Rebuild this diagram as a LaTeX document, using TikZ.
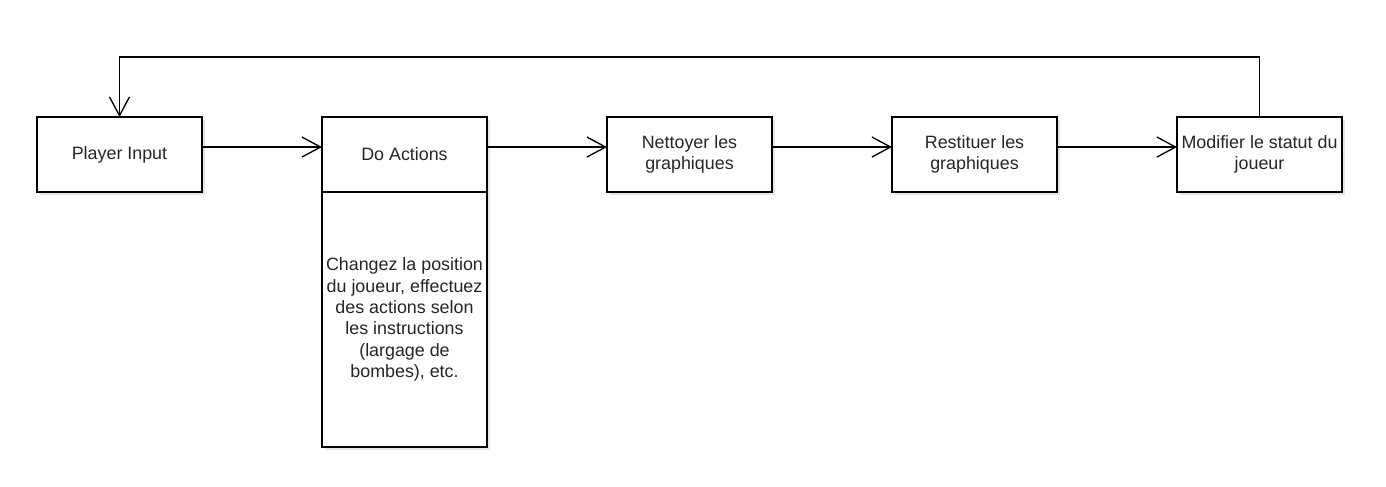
\documentclass[tikz,border=0pt]{standalone}
\usepackage{fontspec}
\setmainfont{Liberation Sans}
\usetikzlibrary{arrows.meta,positioning,shadows}

\begin{document}
\begin{tikzpicture}[
	x = 0.75pt, y = -0.75pt, % pixel units, y down
	> = {Straight Barb[length=14pt, width=15pt]}, % open arrow head
	line width = 1pt,
	node distance = 90pt, % gap between steps
	box/.style={rectangle, draw=black, fill=white, minimum width=123.75pt, minimum height=56.25pt, inner sep=1pt, outer sep=0pt, align=center, text=black!85, font=\fontsize{13.4}{16}\selectfont, drop shadow={opacity=0.2, shadow xshift=2pt, shadow yshift=-2pt}},
	arr/.style={->, draw=black},
	]
	\useasboundingbox (0,0) rectangle (1386,486);

	% Steps of the loop
	\node[box, anchor=north west] (pi) at (37,117) {Player Input};
	\node[box] (da)  [right = of pi] {Do Actions};
	\node[box, minimum height=191.25pt, anchor=north] (det) at (da.south) {Changez la position\\du joueur, effectuez\\des actions selon\\les instructions\\(largage de\\bombes), etc.};
	\node[box] (net) [right = of da] {Nettoyer les\\graphiques};
	\node[box] (res) [right = of net] {Restituer les\\graphiques};
	\node[box] (mod) [right = of res] {Modifier le statut du\\joueur};

	% Arrows between steps
	\draw[arr] ([yshift=5.6pt]pi.east) -- ([yshift=5.6pt]da.west);
	\draw[arr] ([yshift=5.6pt]da.east) -- ([yshift=5.6pt]net.west);
	\draw[arr] ([yshift=5.6pt]net.east) -- ([yshift=5.6pt]res.west);
	\draw[arr] ([yshift=5.6pt]res.east) -- ([yshift=5.6pt]mod.west);

	% Back to the start
	\coordinate (top) at (0,57);
	\draw[arr] (mod.north) |- (top -| pi.north) -- (pi.north);

\end{tikzpicture}
\end{document}
